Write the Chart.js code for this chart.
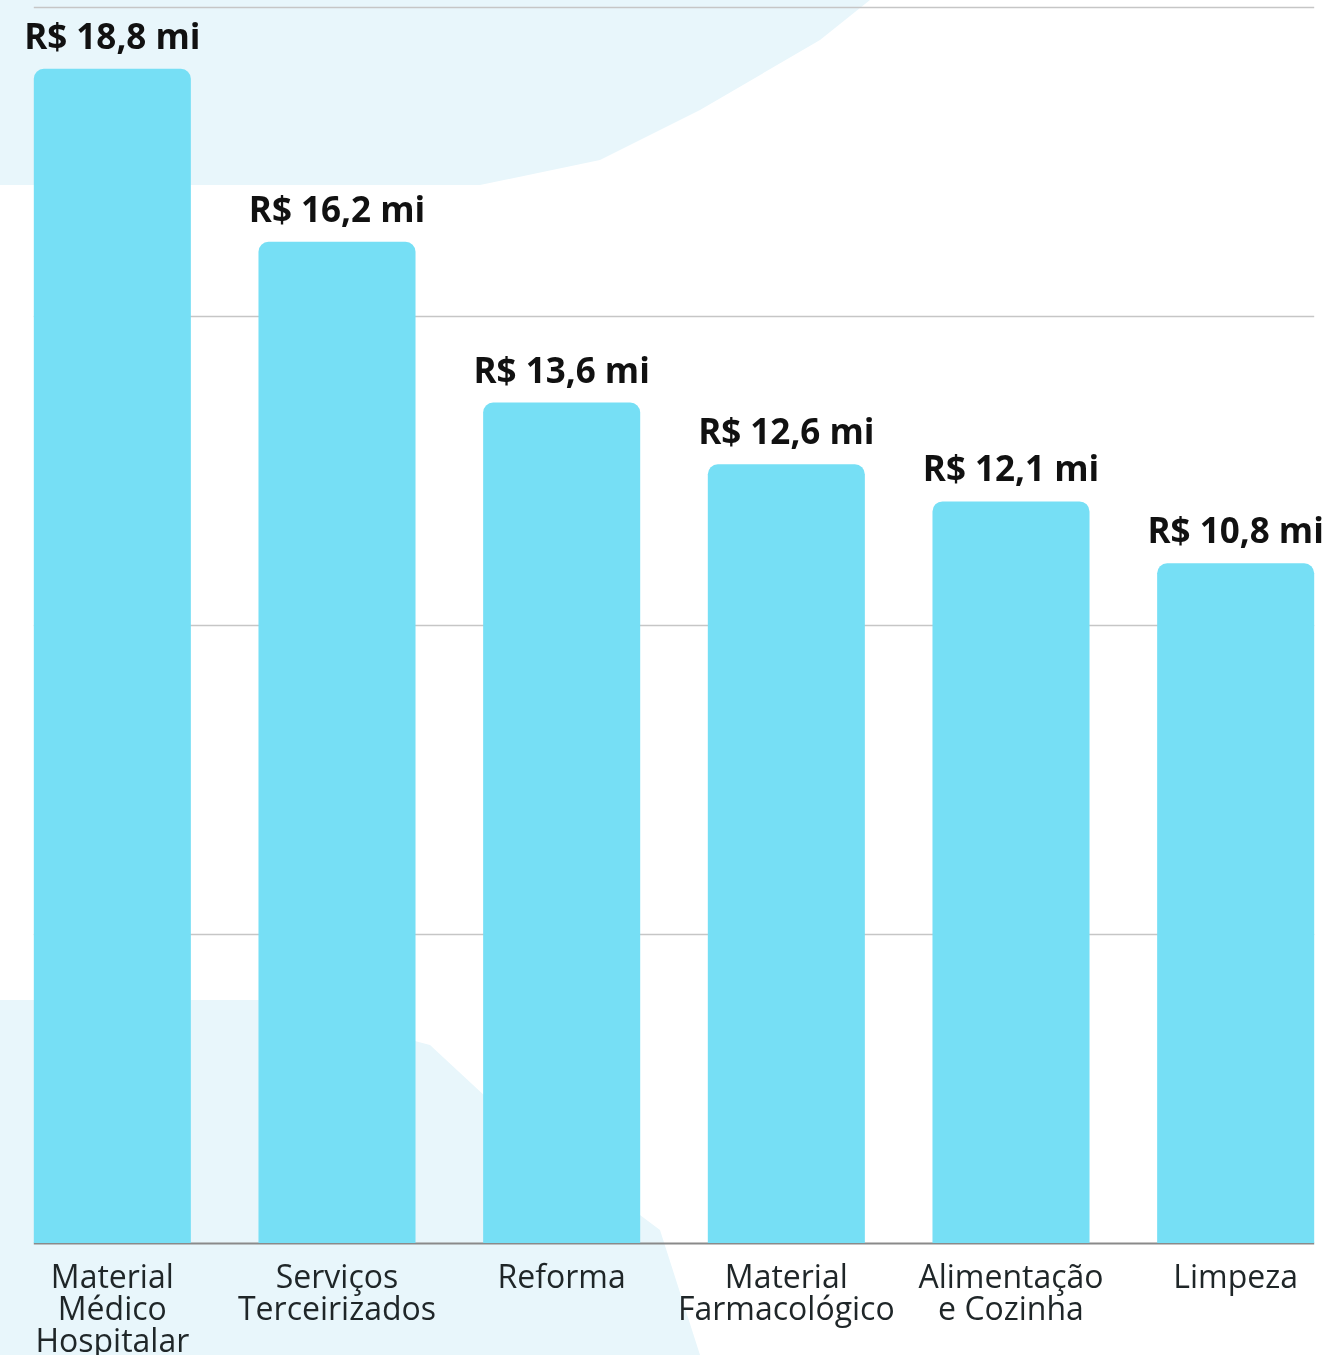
<!DOCTYPE html>
<html>
<head>
<meta charset="utf-8">
<script src="https://cdn.jsdelivr.net/npm/chart.js@4"></script>
<style>
  html, body { margin: 0; padding: 0; background: #fff; overflow: hidden; }
  #wrap { position: relative; width: 1348px; height: 1355px; overflow: hidden; }
  .blob { position: absolute; left: 0; top: 0; width: 1348px; height: 1355px; background: #e8f6fb; }
  #blobTop { clip-path: polygon(0 0, 870px 0, 820px 40px, 700px 110px, 600px 160px, 480px 185px, 0 185px); }
  #blobBot { clip-path: polygon(0 1000px, 260px 1000px, 430px 1045px, 500px 1110px, 580px 1170px, 660px 1230px, 700px 1355px, 0 1355px); }
  canvas { position: absolute; left: 0; top: 0; }
</style>
</head>
<body>
<div id="wrap">
  <div class="blob" id="blobTop"></div>
  <div class="blob" id="blobBot"></div>
  <canvas id="barChart" width="1348" height="1355"></canvas>
</div>
<script>
const categories = [
  ["Material", "Médico", "Hospitalar"],
  ["Serviços", "Terceirizados"],
  ["Reforma"],
  ["Material", "Farmacológico"],
  ["Alimentação", "e Cozinha"],
  ["Limpeza"]
];
const values = [19.0, 16.2, 13.6, 12.6, 12.0, 11.0];
const valueLabels = ["R$ 18,8 mi", "R$ 16,2 mi", "R$ 13,6 mi", "R$ 12,6 mi", "R$ 12,1 mi", "R$ 10,8 mi"];
const yTicks = [0, 5, 10, 15, 20];

const FONT = "'Open Sans', sans-serif";

// gridlines only span from first bar to last bar
const gridPlugin = {
  id: 'gridSpan',
  beforeDatasetsDraw(chart){
    const ctx = chart.ctx, y = chart.scales.y;
    const bars = chart.getDatasetMeta(0).data;
    const x0 = bars[0].x - bars[0].width / 2;
    const x1 = bars[bars.length - 1].x + bars[bars.length - 1].width / 2;
    ctx.save();
    yTicks.forEach(v => {
      const py = Math.round(y.getPixelForValue(v)) + 0.5;
      ctx.beginPath();
      ctx.strokeStyle = v === 0 ? '#8a8a8a' : '#c6c6c6';
      ctx.lineWidth = v === 0 ? 2 : 1.5;
      ctx.moveTo(x0, py); ctx.lineTo(x1, py); ctx.stroke();
    });
    ctx.restore();
  }
};

const valuePlugin = {
  id: 'valueLabels',
  afterDatasetsDraw(chart){
    const ctx = chart.ctx;
    ctx.save();
    ctx.font = `bold 35px ${FONT}`;
    ctx.fillStyle = '#111';
    ctx.textAlign = 'center';
    ctx.textBaseline = 'alphabetic';
    chart.getDatasetMeta(0).data.forEach((bar, i) => {
      ctx.fillText(valueLabels[i], bar.x, bar.y - 20);
    });
    ctx.restore();
  }
};

new Chart(document.getElementById('barChart').getContext('2d'), {
  type: 'bar',
  data: {
    labels: categories,
    datasets: [{
      data: values,
      backgroundColor: '#76dff5',
      borderWidth: 0,
      borderRadius: { topLeft: 10, topRight: 10, bottomLeft: 0, bottomRight: 0 },
      borderSkipped: 'bottom',
      categoryPercentage: 1,
      barPercentage: 0.699
    }]
  },
  options: {
    responsive: false,
    animation: false,
    layout: { padding: { top: 7, left: 0, right: 0, bottom: 0 } },
    plugins: { legend: { display: false }, tooltip: { enabled: false } },
    scales: {
      x: {
        grid: { display: false, drawTicks: false },
        border: { display: false },
        ticks: { color: '#1f2628', font: { family: FONT, size: 32, lineHeight: 1.0 }, padding: 20, maxRotation: 0, autoSkip: false },
        afterFit(scale){ scale.height = 112; }
      },
      y: {
        display: false,
        min: 0, max: 20,
        ticks: { stepSize: 5 }
      }
    }
  },
  plugins: [gridPlugin, valuePlugin]
});
</script>
</body>
</html>
